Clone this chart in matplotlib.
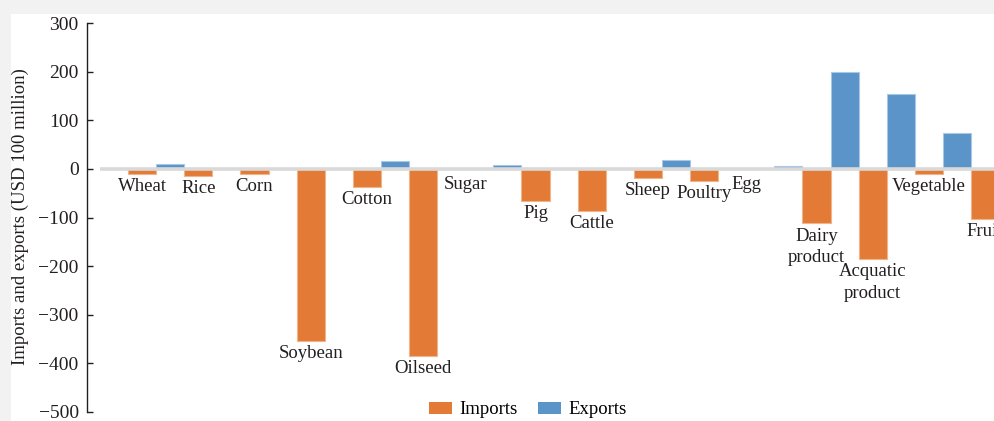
import numpy as np
import matplotlib
matplotlib.use("Agg")
import matplotlib.pyplot as plt
from matplotlib.patches import Rectangle, Patch

# values in USD 100 million
categories = ["Wheat", "Rice", "Corn", "Soybean", "Cotton", "Oilseed", "Sugar", "Pig",
              "Cattle", "Sheep", "Poultry", "Egg", "Dairy\nproduct", "Acquatic\nproduct",
              "Vegetable", "Fruit"]
exports = [0, 11, 0, 0, 0, 17, 0, 8, 0, 0, 18, 0, 5, 199, 155, 74]
imports = [-10, -14, -11, -353, -37, -384, 0, -66, -87, -19, -25, 0, -112, -185, -10, -104]
yticks = [300, 200, 100, 0, -100, -200, -300, -400, -500]

ORANGE = "#E37B36"
BLUE = "#5A94C9"

plt.rcParams["font.family"] = ["Liberation Serif", "DejaVu Serif"]
plt.rcParams["axes.unicode_minus"] = True

W, H = 994, 421
fig = plt.figure(figsize=(W / 100, H / 100), dpi=100, facecolor="#f2f2f2")
# white panel inside the grey frame
fig.patches.append(Rectangle((11 / W, 0), 1, (H - 14) / H, transform=fig.transFigure,
                             facecolor="white", edgecolor="none", zorder=-10))

ax = fig.add_axes([87 / W, (H - 412) / H, 1 - 87 / W, (412 - 23) / H])
ax.set_facecolor("none")
ax.set_zorder(5)

x = np.arange(len(categories))
bw = 0.5
ax.bar(x - bw / 2, exports, width=bw, color=BLUE, edgecolor="#a9c8e6", linewidth=0.8, zorder=2)
ax.bar(x + bw / 2, imports, width=bw, color=ORANGE, edgecolor="#f0b48c", linewidth=0.8, zorder=2)

# zero line from the first category edge
ax.plot([-0.5, len(categories)], [0, 0], color="#d9d9d9", linewidth=2.6, zorder=3,
        solid_capstyle="butt")

# category names placed under the import bars
for i, name in enumerate(categories):
    if imports[i] < 0:
        xl = i + bw / 2
        off = -9
    else:
        xl = i
        off = -11.5
    if "\n" in name:
        off = -17
    ax.annotate(name, (xl, imports[i]), xytext=(0, off), textcoords="offset points",
                ha="center", va="center", fontsize=13.5, color="#231f20",
                linespacing=1.35, annotation_clip=False, zorder=4)

ax.set_xlim(-0.73, (W - 128) / 56.2)
ax.set_ylim(-500, 300)
ax.set_yticks(yticks)
ax.tick_params(axis="y", direction="in", length=4, width=1, colors="#231f20",
               labelsize=14, pad=6)
ax.set_xticks([])
for s in ["top", "right", "bottom"]:
    ax.spines[s].set_visible(False)
ax.spines["left"].set_color("#231f20")
ax.spines["left"].set_linewidth(1)

fig.text(20 / W, 0.5 + (H / 2 - 217) / H, "Imports and exports (USD 100 million)",
         rotation=90, ha="center", va="center", fontsize=13.5, color="#231f20")

handles = [Patch(facecolor=ORANGE, edgecolor="none"), Patch(facecolor=BLUE, edgecolor="none")]
fig.legend(handles, ["Imports", "Exports"], loc="center", bbox_to_anchor=(528 / W, (H - 410) / H),
           ncol=2, frameon=False, fontsize=13.5, handlelength=1.2, handleheight=0.6,
           handletextpad=0.42, columnspacing=1.1, borderaxespad=0, borderpad=0)

fig.savefig("out.png", dpi=100, facecolor=fig.get_facecolor())
